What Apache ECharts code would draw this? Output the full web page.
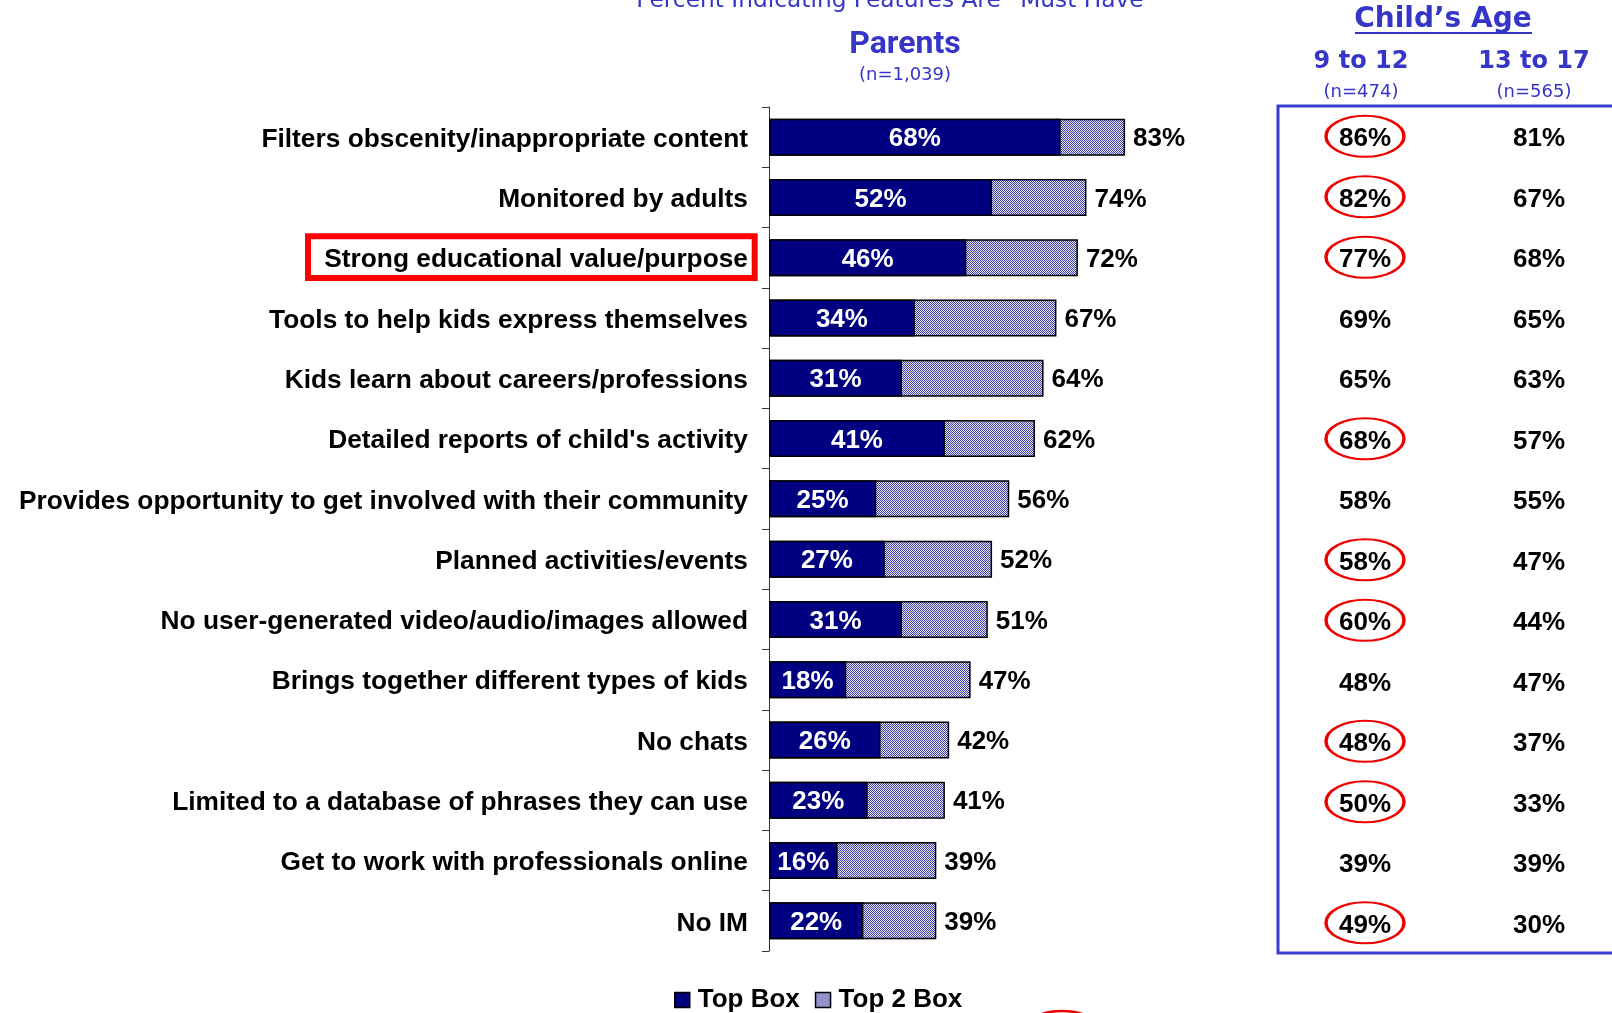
<!DOCTYPE html>
<html>
<head>
<meta charset="utf-8">
<script src="https://cdn.jsdelivr.net/npm/echarts@6/dist/echarts.min.js"></script>
<style>
  html, body { margin: 0; padding: 0; background: #fff; }
  #chart { width: 1612px; height: 1013px; }
</style>
</head>
<body>
<div id="chart"></div>
<script>
// Survey features, in display order (top to bottom)
const features = [
  'Filters obscenity/inappropriate content',
  'Monitored by adults',
  'Strong educational value/purpose',
  'Tools to help kids express themselves',
  'Kids learn about careers/professions',
  "Detailed reports of child's activity",
  'Provides opportunity to get involved with their community',
  'Planned activities/events',
  'No user-generated video/audio/images allowed',
  'Brings together different types of kids',
  'No chats',
  'Limited to a database of phrases they can use',
  'Get to work with professionals online',
  'No IM'
];

// Parents: percent rating each feature "must have"
const topBox  = [68, 52, 46, 34, 31, 41, 25, 27, 31, 18, 26, 23, 16, 22];
const top2Box = [83, 74, 72, 67, 64, 62, 56, 52, 51, 47, 42, 41, 39, 39];

// Breakdown by child's age
const ageGroups = ['9 to 12', '13 to 17'];
const ageSamples = ['(n=474)', '(n=565)'];
const age9to12  = [86, 82, 77, 69, 65, 68, 58, 58, 60, 48, 48, 50, 39, 49];
const age13to17 = [81, 67, 68, 65, 63, 57, 55, 47, 44, 47, 37, 33, 39, 30];
// 9-12 values flagged as notably higher than 13-17
const flagged9to12 = [true, true, true, false, false, true, false, true, true, false, true, true, false, true];

const BLUE = '#3535c8';
const NAVY = '#000080';
const LABEL_FONT = 'Liberation Sans, Arial, sans-serif';
const HEAD_FONT = 'DejaVu Sans, sans-serif';

// Fine checkered fill for the "Top 2 Box" bars
function checkerPattern() {
  const c = document.createElement('canvas');
  c.width = 2; c.height = 2;
  const g = c.getContext('2d');
  g.fillStyle = '#e4e4f6';
  g.fillRect(0, 0, 2, 2);
  g.fillStyle = '#4040a8';
  g.fillRect(0, 0, 1, 1);
  g.fillRect(1, 1, 1, 1);
  return { image: c, repeat: 'repeat' };
}
const pattern = checkerPattern();

const chart = echarts.init(document.getElementById('chart'), null, { renderer: 'canvas' });

const valueLabel = {
  fontSize: 26, fontWeight: 'bold', color: '#000', fontFamily: LABEL_FONT
};

const option = {
  backgroundColor: '#ffffff',
  animation: false,
  grid: [
    // bar chart
    { left: 769, top: 107, width: 429, height: 844 },
    // age breakdown table: columns sit on the two ends of a category axis
    { left: 1365, top: 106, width: 174, height: 847 }
  ],
  xAxis: [
    { gridIndex: 0, type: 'value', min: 0, max: 100, show: false },
    { gridIndex: 1, type: 'category', data: ageGroups, boundaryGap: false, show: false }
  ],
  yAxis: [
    {
      gridIndex: 0, type: 'category', inverse: true, data: features,
      axisLine: { show: true, lineStyle: { color: '#333', width: 1 } },
      axisTick: { show: true, length: 7, lineStyle: { color: '#333' } },
      axisLabel: {
        margin: 21,
        formatter: v => '{f|' + v + '}',
        rich: { f: { fontSize: 26.3, fontWeight: 'bold', color: '#000',
                     fontFamily: LABEL_FONT, padding: [5, 0, 0, 0] } }
      },
      splitLine: { show: false }
    },
    { gridIndex: 1, type: 'category', inverse: true, data: features, show: false }
  ],
  legend: {
    data: ['Top Box', 'Top 2 Box'],
    left: 674, top: 985, padding: 0,
    itemWidth: 15, itemHeight: 15, itemGap: 15,
    icon: 'rect',
    itemStyle: { borderColor: '#000', borderWidth: 1.5 },
    textStyle: { fontSize: 26, fontWeight: 'bold', color: '#000', fontFamily: LABEL_FONT,
                 lineHeight: 28, padding: [2, 0, 0, 3] }
  },
  series: [
    {
      name: 'Top 2 Box', type: 'bar', xAxisIndex: 0, yAxisIndex: 0,
      data: top2Box, barWidth: 37,
      itemStyle: { color: pattern, borderColor: '#000', borderWidth: 1.5 },
      label: Object.assign({ show: true, position: 'right', distance: 8, formatter: '{c}%', offset: [0, 2] }, valueLabel),
      z: 2
    },
    {
      name: 'Top Box', type: 'bar', xAxisIndex: 0, yAxisIndex: 0,
      data: topBox, barWidth: 37, barGap: '-100%',
      itemStyle: { color: NAVY, borderColor: '#000', borderWidth: 1.5 },
      label: Object.assign({ show: true, position: 'inside', formatter: '{c}%', offset: [0, 2] },
                           valueLabel, { color: '#fff' }),
      z: 3
    },
    {
      name: 'flags', type: 'scatter', xAxisIndex: 1, yAxisIndex: 1, silent: true,
      data: flagged9to12.map((f, i) => f ? [0, i] : null).filter(d => d),
      symbol: 'circle', symbolSize: [78, 41],
      itemStyle: { color: 'rgba(0,0,0,0)', borderColor: '#ee0000', borderWidth: 2.5, opacity: 1 },
      z: 4
    },
    ...[age9to12, age13to17].map((vals, col) => ({
      name: ageGroups[col], type: 'scatter', xAxisIndex: 1, yAxisIndex: 1, silent: true,
      data: vals.map((v, i) => [col, i, v]),
      symbolSize: 1, itemStyle: { color: 'rgba(0,0,0,0)', opacity: 1 },
      label: Object.assign({ show: true, position: 'inside', offset: [0, 3],
                             formatter: p => p.value[2] + '%' }, valueLabel),
      z: 5
    }))
  ],
  graphic: [
    { type: 'text', style: { x: 896, y: 12, text: 'Percent Indicating Features Are \u201cMust Have\u201d',
      fill: BLUE, font: '23.3px ' + HEAD_FONT, textAlign: 'center', textVerticalAlign: 'bottom' } },
    { type: 'text', style: { x: 905, y: 45, text: 'Parents', fill: BLUE,
      font: 'bold 32px Roboto, sans-serif', textAlign: 'center', textVerticalAlign: 'middle' } },
    { type: 'text', style: { x: 905, y: 75.5, text: '(n=1,039)', fill: BLUE,
      font: '18px ' + HEAD_FONT, textAlign: 'center', textVerticalAlign: 'middle' } },
    { type: 'text', style: { x: 1443, y: 20, text: 'Child\u2019s Age', fill: BLUE,
      font: 'bold 28px ' + HEAD_FONT, textAlign: 'center', textVerticalAlign: 'middle' } },
    { type: 'line', shape: { x1: 1355, y1: 33, x2: 1532, y2: 33 }, style: { stroke: BLUE, lineWidth: 2 } },
    ...ageGroups.map((g, i) => ({ type: 'text', style: { x: [1361, 1534][i], y: 62, text: g, fill: BLUE,
      font: 'bold 24px ' + HEAD_FONT, textAlign: 'center', textVerticalAlign: 'middle' } })),
    ...ageSamples.map((s, i) => ({ type: 'text', style: { x: [1361, 1534][i], y: 92, text: s, fill: BLUE,
      font: '18px ' + HEAD_FONT, textAlign: 'center', textVerticalAlign: 'middle' } })),
    // frame around the age table (open on the right, runs past the edge)
    { type: 'rect', shape: { x: 1278, y: 106, width: 400, height: 847 },
      style: { fill: 'none', stroke: '#3b3bd0', lineWidth: 3 } },
    // highlight box around one feature label
    { type: 'rect', shape: { x: 308, y: 236.3, width: 446.7, height: 41.7 },
      style: { fill: 'none', stroke: '#ff0000', lineWidth: 6 }, z: 10 },
    // partly visible annotation ellipse at the bottom edge
    { type: 'ellipse', shape: { cx: 1062, cy: 1032, rx: 39, ry: 21 },
      style: { fill: 'none', stroke: '#ee0000', lineWidth: 2.5 } }
  ]
};

chart.setOption(option);
</script>
</body>
</html>
